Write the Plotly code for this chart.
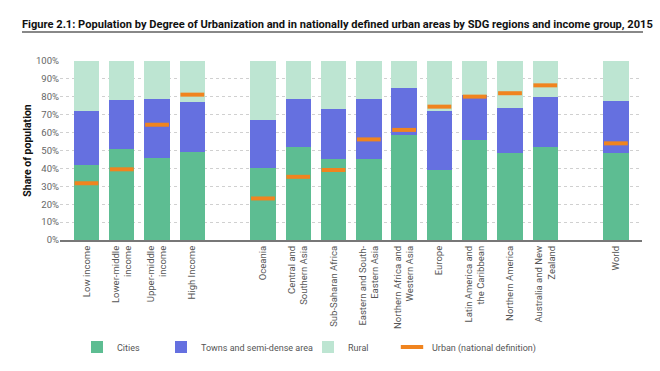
import plotly.graph_objects as go

# ---- data ----
income_groups = ["Low income", "Lower-middle<br>income", "Upper-middle<br>income", "High Income"]
sdg_regions = ["Oceania", "Central and<br>Southern Asia", "Sub-Saharan Africa",
               "Eastern and South-<br>Eastern Asia", "Northern Africa and<br>Western Asia",
               "Europe", "Latin America and<br>the Caribbean", "Northern America",
               "Australia and New<br>Zealand"]
world_group = ["World"]

# shares (%), in group order
cities = [42, 51, 46, 49.3,
          40.3, 51.8, 45.2, 45.2, 58.8, 39.1, 55.9, 48.6, 51.8,
          48.4]
towns_top = [72, 78, 79, 77.3,
             67, 78.5, 73, 79, 85, 72.1, 80.8, 73.5, 80.1,
             77.8]
urban_national = [31.7, 39.5, 64.4, 81.2,
                  23.2, 35.3, 39.1, 56.2, 61.5, 74.5, 80.1, 82, 86.4,
                  54]

towns = [t - c for t, c in zip(towns_top, cities)]
rural = [100 - t for t in towns_top]

# x positions: one slot per category, an empty slot between groups
groups = [income_groups, sdg_regions, world_group]
labels, xpos = [], []
slot = 0
for g in groups:
    for name in g:
        labels.append(name)
        xpos.append(slot)
        slot += 1
    slot += 1

C_CITIES = "#5dbd92"
C_TOWNS = "#6570e0"
C_RURAL = "#bde5d2"
C_URBAN = "#f0841f"
FONT = "Roboto, sans-serif"

fig = go.Figure()
fig.add_bar(x=xpos, y=cities, name="Cities", marker_color=C_CITIES,
            marker_line_width=0, width=0.72, legend="legend2")
fig.add_bar(x=xpos, y=towns, name="Towns and semi-dense area", marker_color=C_TOWNS,
            marker_line_width=0, width=0.72, legend="legend3")
fig.add_bar(x=xpos, y=rural, name="Rural", marker_color=C_RURAL,
            marker_line_width=0, width=0.72, legend="legend4")
fig.add_scatter(x=xpos, y=urban_national, mode="markers", name="Urban (national definition)",
                marker=dict(symbol="line-ew", size=17, color=C_URBAN,
                            line=dict(width=4, color=C_URBAN)),
                legend="legend5")

L, R, T, B = 60, 18, 61, 131
W, H = 660, 371
pw, ph = W - L - R, H - T - B

def px_x(p):
    return (p - L) / pw

def px_y(p):
    return (H - B - p) / ph

leg_common = dict(orientation="h", yanchor="middle", xanchor="left",
                  font=dict(family=FONT, size=9, color="#555"),
                  bgcolor="rgba(0,0,0,0)", borderwidth=0)

fig.update_layout(
    width=W, height=H,
    margin=dict(l=L, r=R, t=T, b=B, autoexpand=False),
    paper_bgcolor="white", plot_bgcolor="white",
    barmode="stack", bargap=0,
    font=dict(family=FONT, color="#555"),
    title=dict(text="<b>Figure 2.1: Population by Degree of Urbanization and in nationally defined urban areas by SDG regions and income group, 2015</b>",
               x=22 / W, xanchor="left", xref="container",
               y=1 - 24 / H, yanchor="middle", yref="container",
               font=dict(family=FONT, size=11.1, color="#111")),
    xaxis=dict(range=[-0.75, 15.74], tickmode="array", tickvals=xpos, ticktext=labels,
               tickangle=-90, tickfont=dict(family=FONT, size=9.5, color="#555"),
               showgrid=False, zeroline=False, showline=True, linecolor="#777",
               linewidth=2, ticks="", automargin=False),
    yaxis=dict(range=[0, 100], dtick=10, tick0=0, ticksuffix="%",
               tickfont=dict(family=FONT, size=9.5, color="#666"),
               showgrid=True, gridcolor="#d0d0d0", griddash="dot", gridwidth=1,
               zeroline=False, ticks="", automargin=False,
               title=dict(text="<b>Share of population</b>", standoff=2,
                          font=dict(family=FONT, size=10.5, color="#111"))),
    legend2=dict(x=px_x(77), y=px_y(347), **leg_common),
    legend3=dict(x=px_x(161), y=px_y(347), **leg_common),
    legend4=dict(x=px_x(308), y=px_y(347), **leg_common),
    legend5=dict(x=px_x(392), y=px_y(347), **leg_common),
    showlegend=True,
    shapes=[dict(type="line", xref="paper", yref="paper",
                 x0=px_x(22), x1=px_x(643), y0=px_y(32), y1=px_y(32),
                 line=dict(color="#888", width=2))],
)

fig.write_html("out.html", config={"displayModeBar": False},
               post_script="document.body.style.margin='0';")
